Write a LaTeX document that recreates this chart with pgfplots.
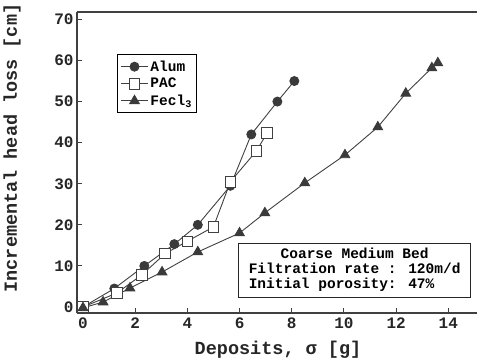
\documentclass[border=0pt]{standalone}
\usepackage{pgfplots}
\pgfplotsset{compat=1.18}
\usepackage{fontspec}
\setmainfont{Liberation Mono}
\definecolor{ln}{HTML}{404040}
\definecolor{mk}{HTML}{3A3A3A}
\begin{document}
\begin{tikzpicture}
\useasboundingbox (-77bp,-51bp) rectangle (400bp,313bp);
\begin{axis}[
  scale only axis, width=400bp, height=301bp,
  xmin=-0.23, xmax=15.1, ymin=-1.46, ymax=71.8,
  axis x line=box, axis y line=left,
  axis line style={-, color=ln, line width=1.1bp},
  xtick={0,2,...,14}, ytick={0,10,...,70},
  xtick pos=bottom, ytick pos=left,
  tick align=inside, major tick length=5bp,
  tick style={color=ln, line width=0.9bp},
  /pgf/number format/assume math mode=true,
  tick label style={font=\fontsize{16bp}{18bp}\selectfont\bfseries, color=black!85},
  xticklabel style={yshift=-1bp},
  every axis y label/.style={at={(rel axis cs:0,0.548)}, xshift=-65bp, rotate=90, anchor=center},
  every axis x label/.style={at={(rel axis cs:0.5025,0)}, yshift=-37bp, anchor=center},
  label style={font=\fontsize{18.5bp}{20bp}\selectfont\bfseries, color=black!85},
  xlabel={Deposits, σ  [g]},
  ylabel={Incremental head loss [cm]},
  legend style={at={(rel axis cs:0.1,0.86)}, anchor=north west, draw=black, line width=1.1bp,
    font=\fontsize{14.5bp}{16bp}\selectfont\bfseries, row sep=1.5bp, inner xsep=3bp, inner ysep=4bp},
  legend cell align=left,
  legend image code/.code={\draw[mark repeat=2,mark phase=2,#1] plot coordinates {(0bp,0bp)(13.5bp,0bp)(27bp,0bp)};},
]
\addplot[color=ln, line width=0.9bp, mark=*, mark size=4.5bp, mark options={fill=mk, draw=mk}] coordinates {
(0,0)(1.2,4.5)(2.35,10)(3.5,15.3)(4.4,20)(5.65,29.5)(6.45,42)(7.45,50)(8.1,55)};
\addlegendentry{Alum}
\addplot[color=ln, line width=0.9bp, mark=square*, mark size=5.3bp, mark options={fill=white, draw=ln, line width=0.9bp}] coordinates {
(0,0)(1.3,3.4)(2.25,7.8)(3.15,13)(4,16)(5,19.5)(5.65,30.5)(6.65,38)(7.05,42.3)};
\addlegendentry{PAC}
\addplot[color=ln, line width=0.9bp, mark=triangle*, mark size=5.5bp, mark options={fill=mk, draw=mk}] coordinates {
(0,-0.2)(0.77,1.2)(1.8,4.6)(3.03,8.5)(4.4,13.4)(6.0,18)(6.97,22.9)(8.5,30.2)(10.04,37)(11.3,43.8)(12.37,52)(13.37,58.2)(13.6,59.4)};
\addlegendentry{Fecl\textsubscript{3}}
\node[draw=black!85, line width=1.3bp, anchor=north west, minimum width=232bp, minimum height=54bp,
  inner sep=0pt, font=\fontsize{14.5bp}{16bp}\selectfont\bfseries, fill=white]
  at (rel axis cs:0.4025,0.2326) {\begin{tabular}{@{}l@{}}\multicolumn{1}{c}{Coarse Medium Bed}\\[-1bp]
  Filtration rate : 120m/d\\[-1bp] Initial porosity: 47\%\end{tabular}};
\end{axis}
\end{tikzpicture}
\end{document}
